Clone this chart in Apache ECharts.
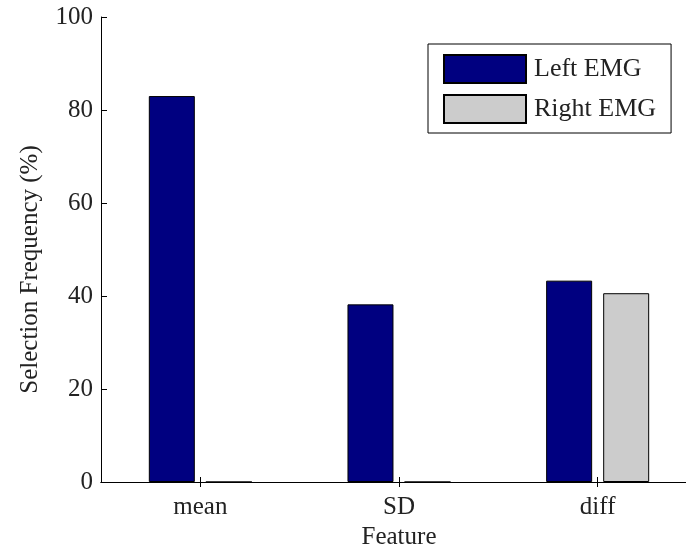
<!DOCTYPE html>
<html>
<head>
<meta charset="utf-8">
<script src="https://cdn.jsdelivr.net/npm/echarts@6/dist/echarts.min.js"></script>
<style>
html,body{margin:0;padding:0;background:#fff;}
#chart{width:686px;height:548px;}
</style>
</head>
<body>
<div id="chart"></div>
<script>
const categories = ['mean', 'SD', 'diff'];
const leftEMG = [83.0, 38.2, 43.3];
const rightEMG = [0, 0, 40.6];
const yTicks = [0, 20, 40, 60, 80, 100];

const FONT = '"Liberation Serif", "Times New Roman", serif';
const chart = echarts.init(document.getElementById('chart'));
const axisLine = {show: true, lineStyle: {color: '#000', width: 1}};
chart.setOption({
  animation: false,
  backgroundColor: '#fff',
  grid: {left: 101, top: 17, width: 596, height: 465, containLabel: false, outerBoundsMode: 'none'},
  legend: {
    orient: 'vertical',
    left: 428, top: 44,
    padding: [10, 15, 9, 15],
    itemWidth: 82, itemHeight: 28, itemGap: 10,
    borderColor: '#000', borderWidth: 1,
    backgroundColor: '#fff',
    icon: 'rect',
    textStyle: {fontFamily: FONT, fontSize: 26, color: '#222', padding: [0, 0, 0, 3]},
    data: ['Left EMG', 'Right EMG']
  },
  xAxis: [{
    type: 'category',
    data: categories,
    boundaryGap: true,
    axisLine: axisLine,
    axisTick: {show: true, inside: true, length: 5, alignWithLabel: true, lineStyle: {color: '#000'}},
    axisLabel: {fontFamily: FONT, fontSize: 25, color: '#222', margin: 13},
    name: 'Feature',
    nameLocation: 'middle',
    nameGap: 42,
    nameTextStyle: {fontFamily: FONT, fontSize: 25, color: '#222'}
  }, {
    type: 'category',
    data: categories,
    position: 'top',
    boundaryGap: true,
    axisLine: axisLine,
    axisTick: {show: true, inside: true, length: 5, alignWithLabel: true, lineStyle: {color: '#000'}},
    axisLabel: {show: false}
  }],
  yAxis: [{
    type: 'value',
    min: 0, max: 100, interval: 20,
    axisLine: axisLine,
    axisTick: {show: true, inside: true, length: 6, lineStyle: {color: '#000'}},
    splitLine: {show: false},
    axisLabel: {fontFamily: FONT, fontSize: 25, color: '#222', margin: 8,
      formatter: v => yTicks.includes(v) ? String(v) : ''},
    name: 'Selection Frequency (%)',
    nameLocation: 'middle',
    nameGap: 58,
    nameTextStyle: {fontFamily: FONT, fontSize: 25, color: '#222', padding: [0, 40, 0, 0]}
  }, {
    type: 'value',
    position: 'right',
    min: 0, max: 100, interval: 20,
    axisLine: axisLine,
    axisTick: {show: true, inside: true, length: 6, lineStyle: {color: '#000'}},
    splitLine: {show: false},
    axisLabel: {show: false}
  }],
  series: [{
    name: 'Left EMG',
    type: 'bar',
    data: leftEMG,
    barWidth: 46,
    barGap: '24%',
    itemStyle: {color: '#000080', borderColor: '#000', borderWidth: 1}
  }, {
    name: 'Right EMG',
    type: 'bar',
    data: rightEMG,
    barWidth: 46,
    barGap: '24%',
    itemStyle: {color: '#cccccc', borderColor: '#000', borderWidth: 1}
  }]
});
</script>
</body>
</html>
